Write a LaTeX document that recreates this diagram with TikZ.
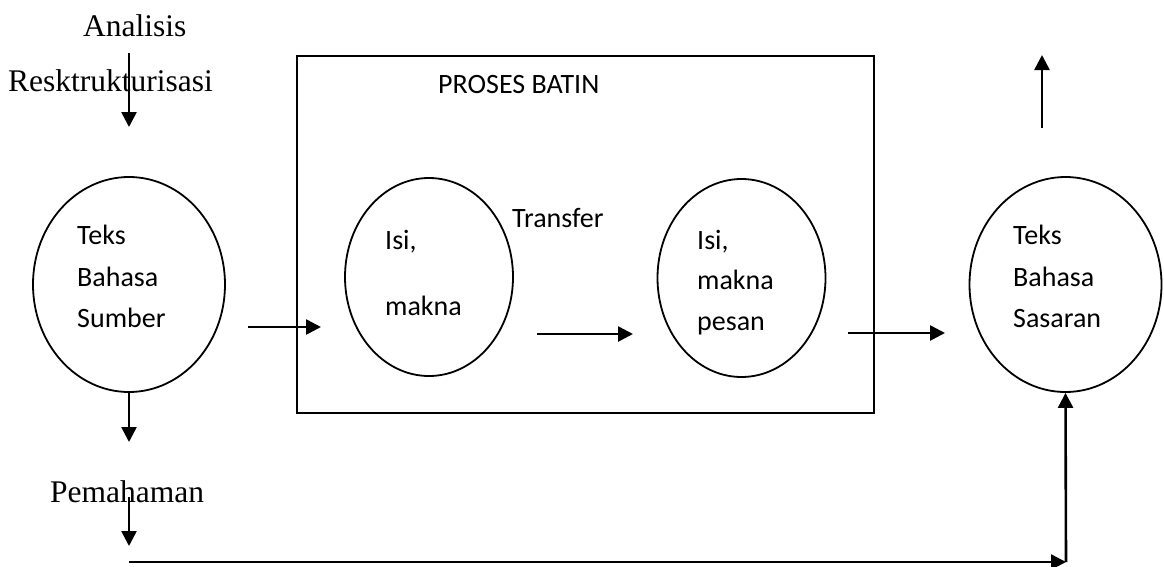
\documentclass[tikz,border=0pt]{standalone}
\usepackage{fontspec}
\setmainfont{Liberation Serif}
\newfontfamily\labelsans{Carlito}
\usetikzlibrary{arrows.meta,shapes.geometric}

\tikzset{
  bubble/.style={draw, ellipse, line width=1.8pt, inner sep=0pt},
  bigbubble/.style={bubble, minimum width=192pt, minimum height=215pt},
  smallbubble/.style={bubble, minimum width=168pt, minimum height=198pt},
  frame/.style={draw, line width=1.6pt},
  flow/.style={line width=2.6pt, -{Triangle[length=15pt,width=15pt]}},
  sanslabel/.style={anchor=base west, inner sep=0pt, font=\labelsans\fontsize{28}{34}\selectfont},
  seriflabel/.style={anchor=base west, inner sep=0pt, font=\fontsize{31.5}{38}\selectfont},
}

\begin{document}
\begin{tikzpicture}[x=1pt, y=-1pt]
  \useasboundingbox (0,0) rectangle (1164,566);

  % inner process frame
  \draw[frame] (297,56) rectangle (874,413);
  \node[sanslabel] (batin) at (438,93) {PROSES BATIN};

  % the four bubbles
  \node[bigbubble]   (src)  at (129,284.5) {};
  \node[smallbubble] (isi)  at (429,277) {};
  \node[smallbubble] (msg)  at (741.5,278) {};
  \node[bigbubble]   (tgt)  at (1065.5,284.5) {};

  % bubble texts
  \node[sanslabel] (srcA) at (77,244) {Teks};
  \node[sanslabel] (srcB) at (77,286) {Bahasa};
  \node[sanslabel] (srcC) at (77,327) {Sumber};

  \node[sanslabel] (isiA) at (385,249) {Isi,};
  \node[sanslabel] (isiB) at (385,315) {makna};

  \node[sanslabel] (msgA) at (697,249) {Isi,};
  \node[sanslabel] (msgB) at (697,289) {makna};
  \node[sanslabel] (msgC) at (697,330) {pesan};

  \node[sanslabel] (tgtA) at (1013,244) {Teks};
  \node[sanslabel] (tgtB) at (1013,286) {Bahasa};
  \node[sanslabel] (tgtC) at (1013,327) {Sasaran};

  \node[sanslabel] (transfer) at (512,227) {Transfer};

  % stage labels
  \node[seriflabel] (analisis) at (83,36) {Analisis};
  \node[seriflabel] (restr)    at (8,91)  {Resktrukturisasi};
  \node[seriflabel] (paham)    at (50,502) {Pemahaman};

  % free arrow ends
  \coordinate (topA)  at (129,53);
  \coordinate (topB)  at (129,127);
  \coordinate (downB) at (129,442);
  \coordinate (pemA)  at (129,497);
  \coordinate (pemB)  at (129,546);
  \coordinate (baseL) at (129,562);
  \coordinate (baseR) at (1066,562);
  \coordinate (upA)   at (1042,128);
  \coordinate (upB)   at (1042,55);
  \coordinate (h1a) at (248,327);
  \coordinate (h1b) at (321,327);
  \coordinate (h2a) at (537,334);
  \coordinate (h2b) at (633,334);
  \coordinate (h3a) at (848,333);
  \coordinate (h3b) at (945,333);

  % connectors
  \draw[flow] (topA) -- (topB);
  \draw[flow] (src.south) -- (downB);
  \draw[flow] (pemA) -- (pemB);
  \draw[flow] (baseL) -- (baseR);
  \draw[flow] (baseR) -- (tgt.south);
  \draw[flow] (upA) -- (upB);
  \draw[flow] (h1a) -- (h1b);
  \draw[flow] (h2a) -- (h2b);
  \draw[flow] (h3a) -- (h3b);
\end{tikzpicture}
\end{document}
